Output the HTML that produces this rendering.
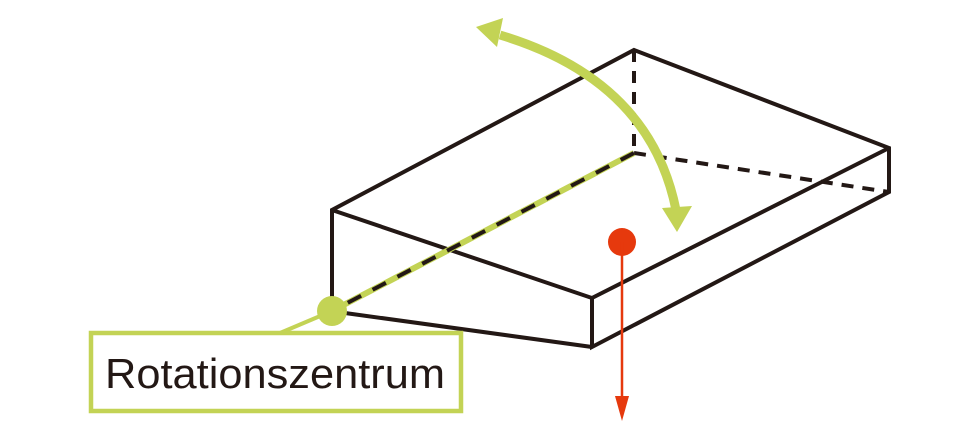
<!DOCTYPE html>
<html><head><style>body{margin:0;background:#fff}</style></head><body>
<svg width="980" height="440" xmlns="http://www.w3.org/2000/svg">
<g stroke="#231815" stroke-width="4" fill="none" stroke-linejoin="miter">
<polyline points="332,305 332,210 634,50 889,148 889,192 592,347 592,298 332,210"/>
<line x1="592" y1="298" x2="889" y2="148"/>
<line x1="345" y1="313" x2="592" y2="347"/>
<g stroke-dasharray="12,9">
<line x1="634" y1="50" x2="634" y2="153"/>
<line x1="634" y1="153" x2="889" y2="192"/>
</g>
</g>
<line x1="634" y1="153" x2="332" y2="311" stroke="#c3d355" stroke-width="6"/>
<line x1="634" y1="153" x2="332" y2="311" stroke="#231815" stroke-width="4" stroke-dasharray="15,13"/>
<path d="M500,35 Q650,80 676,210" stroke="#c3d355" stroke-width="9" fill="none"/>
<polygon points="476,27 503,18 497,47" fill="#c3d355"/>
<polygon points="662,208 692,206 677,232" fill="#c3d355"/>
<line x1="280" y1="333" x2="332" y2="311" stroke="#c3d355" stroke-width="4"/>
<circle cx="332" cy="311" r="15" fill="#c3d355"/>
<rect x="91" y="333" width="370" height="78" fill="#fff" stroke="#c3d355" stroke-width="4.5"/>
<text x="275" y="388" text-anchor="middle" font-family="Liberation Sans, sans-serif" font-size="42" fill="#231815" textLength="340" lengthAdjust="spacingAndGlyphs">Rotationszentrum</text>
<circle cx="622" cy="242" r="14" fill="#e6390d"/>
<line x1="622" y1="242" x2="622" y2="400" stroke="#e6390d" stroke-width="2.5"/>
<polygon points="615,396 629,396 622,421" fill="#e6390d"/>
</svg>
</body></html>
